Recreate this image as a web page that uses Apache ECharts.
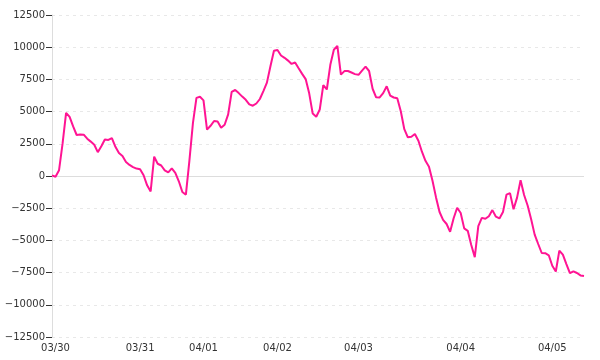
<!DOCTYPE html>
<html>
<head>
<meta charset="utf-8">
<script src="https://cdn.jsdelivr.net/npm/echarts@6/dist/echarts.min.js"></script>
<style>html,body{margin:0;padding:0;background:#fff}#c{width:600px;height:360px}</style>
</head>
<body>
<div id="c"></div>
<script>
// Series values (one per sample)
var values = [
  50, -60, 450, 2508, 4900, 4590, 3850, 3183, 3220, 3206,
  2896, 2670, 2430, 1850, 2306, 2834, 2803, 2942, 2267, 1778,
  1553, 1087, 862, 695, 575, 520, 55, -722, -1200, 1498,
  950, 815, 439, 280, 590, 241, -412, -1242, -1452, 1196,
  4111, 6064, 6149, 5870, 3600, 3898, 4270, 4224, 3750, 3975,
  4783, 6530, 6677, 6436, 6165, 5916, 5559, 5458, 5629, 5978,
  6592, 7252, 8517, 9728, 9783, 9355, 9177, 8960, 8703, 8812,
  8362, 7927, 7523, 6421, 4845, 4604, 5163, 7057, 6716, 8633,
  9800, 10100, 7873, 8145, 8152, 8036, 7911, 7857, 8183, 8486,
  8152, 6774, 6110, 6102, 6436, 6964, 6242, 6095, 6032, 5031,
  3633, 3005, 3051, 3261, 2741, 1887, 1180, 722, -365, -1661,
  -2795, -3401, -3727, -4332, -3276, -2461, -2873, -4068, -4255, -5357,
  -6300, -3898, -3253, -3323, -3121, -2648, -3160, -3292, -2803, -1452,
  -1328, -2585, -1677, -330, -1475, -2290, -3362, -4550, -5280, -5978,
  -5994, -6157, -6972, -7415, -5800, -6100, -6840, -7547, -7399, -7531,
  -7718, -7764
];
// Day tick labels and the sample index where each day starts
var dayLabels = ['03/30', '03/31', '04/01', '04/02', '04/03', '04/04', '04/05'];
var dayStartIndex = [1, 25, 43, 64, 87, 116, 142];
// Y axis range
var yMin = -12500, yMax = 12500, yStep = 2500;

var categories = values.map(function (v, i) { return String(i); });
var labelAt = {};
dayStartIndex.forEach(function (idx, k) { labelAt[idx] = dayLabels[k]; });

var chart = echarts.init(document.getElementById('c'), null, { renderer: 'canvas' });
chart.setOption({
  animation: false,
  backgroundColor: '#fff',
  grid: { left: 52, right: 16, top: 15, bottom: 23, containLabel: false },
  xAxis: {
    type: 'category',
    data: categories,
    boundaryGap: false,
    axisLine: { show: false },
    axisTick: { show: false },
    splitLine: { show: false },
    axisLabel: {
      margin: 6,
      color: '#333',
      fontFamily: 'DejaVu Sans',
      fontSize: 10,
      interval: function (index) { return labelAt.hasOwnProperty(index); },
      formatter: function (val, index) { return labelAt[index] || ''; }
    }
  },
  yAxis: {
    type: 'value',
    min: yMin, max: yMax, interval: yStep,
    axisLine: { show: true, lineStyle: { color: '#ddd', width: 1 } },
    axisTick: { show: true, length: 6, lineStyle: { color: '#333', width: 1 } },
    axisLabel: {
      margin: 7, color: '#333', fontFamily: 'DejaVu Sans', fontSize: 10,
      formatter: function (v) { return v < 0 ? '\u2212' + Math.abs(v) : String(v); }
    },
    splitLine: { show: true, lineStyle: { color: '#e8e8e8', type: [3, 4], width: 1 } }
  },
  series: [{
    type: 'line',
    data: values,
    showSymbol: false,
    symbol: 'none',
    smooth: false,
    lineStyle: { color: '#ff1493', width: 2 },
    itemStyle: { color: '#ff1493' },
    markLine: {
      silent: true,
      symbol: ['none', 'none'],
      label: { show: false },
      lineStyle: { color: '#ddd', type: 'solid', width: 1 },
      data: [{ yAxis: 0 }],
      z: 1
    }
  }]
});
</script>
</body>
</html>
